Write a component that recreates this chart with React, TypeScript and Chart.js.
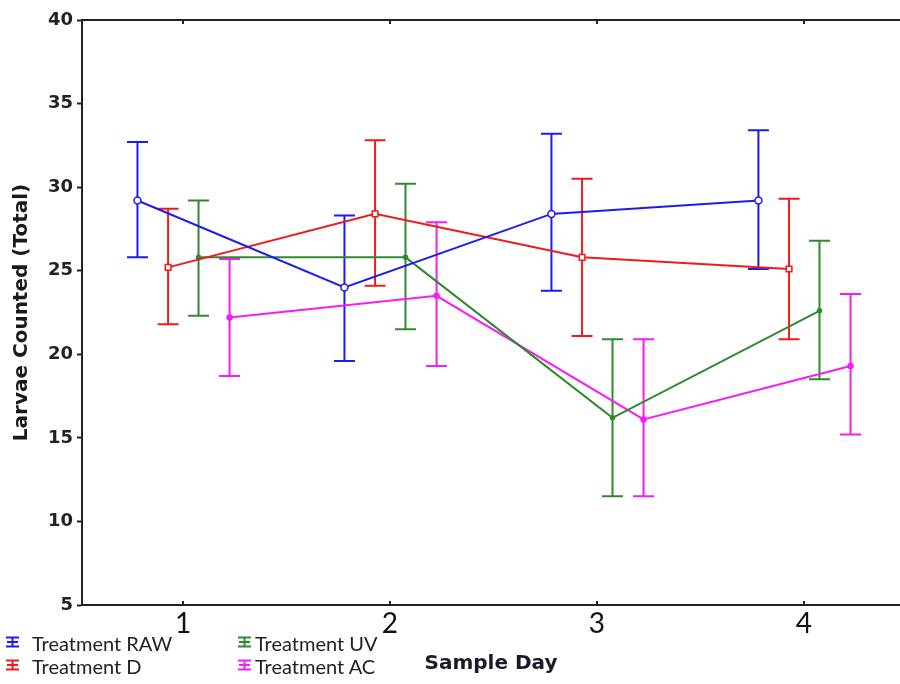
import React, { useEffect, useRef } from "react";
import { Chart, registerables } from "chart.js";

Chart.register(...registerables);

// ---- data ----
const days = [1, 2, 3, 4];
const xTickLabels = ["1", "2", "3", "4"];
const yTicks = [5, 10, 15, 20, 25, 30, 35, 40];
const seriesNames = ["Treatment RAW", "Treatment D", "Treatment UV", "Treatment AC"];
const seriesColors = ["#1c1cf2", "#f01a1a", "#2f8a2f", "#f61cf6"];

const rawMean = [29.2, 24.0, 28.4, 29.2];
const rawLow = [25.8, 19.6, 23.8, 25.1];
const rawHigh = [32.7, 28.3, 33.2, 33.4];

const dMean = [25.2, 28.4, 25.8, 25.1];
const dLow = [21.8, 24.1, 21.1, 20.9];
const dHigh = [28.7, 32.8, 30.5, 29.3];

const uvMean = [25.8, 25.8, 16.2, 22.6];
const uvLow = [22.3, 21.5, 11.5, 18.5];
const uvHigh = [29.2, 30.2, 20.9, 26.8];

const acMean = [22.2, 23.5, 16.1, 19.3];
const acLow = [18.7, 19.3, 11.5, 15.2];
const acHigh = [25.7, 27.9, 20.9, 23.6];

const means = [rawMean, dMean, uvMean, acMean];
const lows = [rawLow, dLow, uvLow, acLow];
const highs = [rawHigh, dHigh, uvHigh, acHigh];

// layout-only: horizontal dodge of each series around its day
const dodge = [-0.22, -0.072, 0.075, 0.225];
const pointStyles = ["circle", "rect", "circle", "circle"];
const pointRadii = [3.5, 4, 2, 2.5];
const pointFills = ["#ffffff", "#ffffff", null, null];

const X_MIN = 0.512;
const X_MAX = 4.464;

const errorBarPlugin = {
  id: "errorBars",
  beforeDatasetsDraw(chart: any) {
    const ctx = chart.ctx;
    const yScale = chart.scales.y;
    chart.data.datasets.forEach((ds: any, di: number) => {
      const meta = chart.getDatasetMeta(di);
      ctx.save();
      ctx.strokeStyle = seriesColors[di];
      ctx.lineWidth = 2;
      meta.data.forEach((pt: any, i: number) => {
        const px = pt.x;
        const yl = yScale.getPixelForValue(lows[di][i]);
        const yh = yScale.getPixelForValue(highs[di][i]);
        ctx.beginPath();
        ctx.moveTo(px, yl);
        ctx.lineTo(px, yh);
        ctx.moveTo(px - 10.5, yl);
        ctx.lineTo(px + 10.5, yl);
        ctx.moveTo(px - 10.5, yh);
        ctx.lineTo(px + 10.5, yh);
        ctx.stroke();
      });
      ctx.restore();
    });
  },
  afterDraw(chart: any) {
    // inward tick marks on bottom and top axes
    const ctx = chart.ctx;
    const xs = chart.scales.x;
    const area = chart.chartArea;
    ctx.save();
    ctx.strokeStyle = "#222";
    ctx.lineWidth = 2;
    days.forEach((d) => {
      const px = xs.getPixelForValue(d);
      ctx.beginPath();
      ctx.moveTo(px, area.bottom);
      ctx.lineTo(px, area.bottom - 4);
      ctx.moveTo(px, area.top);
      ctx.lineTo(px, area.top + 4);
      ctx.stroke();
    });
    ctx.restore();
  },
};

function LegendIcon({ color }: { color: string }) {
  return (
    <svg width={15} height={12} style={{ display: "inline-block", verticalAlign: "middle" }}>
      <line x1={1} y1={1.5} x2={14} y2={1.5} stroke={color} strokeWidth={2} />
      <line x1={2} y1={6} x2={13} y2={6} stroke={color} strokeWidth={2} />
      <line x1={1} y1={10.5} x2={14} y2={10.5} stroke={color} strokeWidth={2} />
      <line x1={7.5} y1={1} x2={7.5} y2={11} stroke={color} strokeWidth={2} />
    </svg>
  );
}

export default function App() {
  const canvasRef = useRef<HTMLCanvasElement | null>(null);

  useEffect(() => {
    if (!canvasRef.current) return;
    const datasets = means.map((m, si) => ({
      label: seriesNames[si],
      data: m.map((v, i) => ({ x: days[i] + dodge[si], y: v })),
      borderColor: seriesColors[si],
      backgroundColor: pointFills[si] || seriesColors[si],
      pointBackgroundColor: pointFills[si] || seriesColors[si],
      pointBorderColor: seriesColors[si],
      pointBorderWidth: 1.5,
      pointStyle: pointStyles[si],
      pointRadius: pointRadii[si],
      borderWidth: 2,
      tension: 0,
      fill: false,
    }));

    const chart = new Chart(canvasRef.current, {
      type: "line",
      data: { datasets },
      plugins: [errorBarPlugin],
      options: {
        animation: false,
        responsive: false,
        devicePixelRatio: 1,
        layout: { autoPadding: false, padding: { top: 20, left: 0, right: 0, bottom: 0 } },
        plugins: {
          legend: { display: false },
          tooltip: { enabled: false },
        },
        scales: {
          x: {
            type: "linear",
            position: "bottom",
            min: X_MIN,
            max: X_MAX,
            afterBuildTicks: (s: any) => {
              s.ticks = days.map((d) => ({ value: d }));
            },
            afterFit: (s: any) => {
              s.height = 79;
              s.paddingLeft = 0;
              s.paddingRight = 0;
            },
            grid: { display: false, drawTicks: false },
            border: { display: true, color: "#222", width: 2 },
            ticks: {
              autoSkip: false,
              maxRotation: 0,
              padding: 2,
              color: "#111",
              font: { family: "Lato", size: 28, lineHeight: 1.2 },
              callback: (_v: any, i: number) => xTickLabels[i],
            },
            title: {
              display: true,
              text: "Sample Day",
              color: "#1a1a2a",
              font: { family: "DejaVu Sans", weight: "bold", size: 20, lineHeight: 1.2 },
              padding: { top: 0, bottom: 8 },
            },
          },
          x2: {
            type: "linear",
            position: "top",
            min: X_MIN,
            max: X_MAX,
            afterFit: (s: any) => {
              s.height = 0;
              s.paddingLeft = 0;
              s.paddingRight = 0;
            },
            grid: { display: false, drawTicks: false },
            border: { display: true, color: "#222", width: 2 },
            ticks: { display: false },
          },
          y: {
            type: "linear",
            min: 5,
            max: 40,
            afterBuildTicks: (s: any) => {
              s.ticks = yTicks.map((v) => ({ value: v }));
            },
            afterFit: (s: any) => {
              s.width = 82;
            },
            grid: {
              drawOnChartArea: false,
              drawTicks: true,
              tickLength: 5,
              tickWidth: 2,
              tickColor: "#222",
            },
            border: { display: true, color: "#222", width: 2 },
            ticks: {
              padding: 4,
              color: "#222",
              font: { family: "DejaVu Sans", weight: "bold", size: 18 },
            },
            title: {
              display: true,
              text: "Larvae Counted (Total)",
              color: "#1a1a1a",
              font: { family: "DejaVu Sans", weight: "bold", size: 20, lineHeight: 1.2 },
              padding: { top: 10, bottom: 0 },
            },
          },
        },
      },
    } as any);
    return () => chart.destroy();
  }, []);

  const legendCols = [
    { iconLeft: 5, textLeft: 32, items: [0, 1] },
    { iconLeft: 237, textLeft: 255, items: [2, 3] },
  ];
  const rowTops = [631, 654];

  return (
    <div
      style={{
        position: "absolute",
        left: 0,
        top: 0,
        width: 900,
        height: 684,
        background: "#fff",
        overflow: "hidden",
      }}
    >
      <canvas ref={canvasRef} width={900} height={684} style={{ width: 900, height: 684, display: "block" }} />
      {legendCols.map((col) =>
        col.items.map((si, r) => (
          <React.Fragment key={si}>
            <div style={{ position: "absolute", left: col.iconLeft, top: rowTops[r] + 5, lineHeight: 0 }}>
              <LegendIcon color={seriesColors[si]} />
            </div>
            <div
              style={{
                position: "absolute",
                left: col.textLeft,
                top: rowTops[r],
                fontFamily: "Lato",
                fontSize: 20,
                lineHeight: "24px",
                color: "#222",
                whiteSpace: "nowrap",
              }}
            >
              {seriesNames[si]}
            </div>
          </React.Fragment>
        ))
      )}
    </div>
  );
}
